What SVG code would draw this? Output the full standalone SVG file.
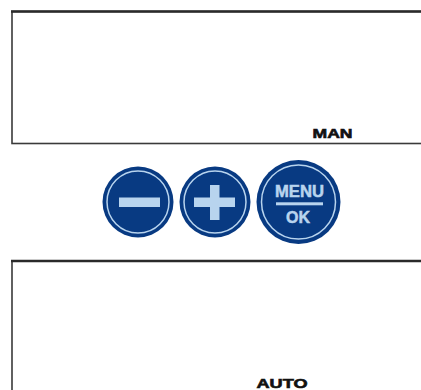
<svg xmlns="http://www.w3.org/2000/svg" width="421" height="390" viewBox="0 0 421 390">
<style>
.frame{fill:#fff;stroke:#3a3a3a;stroke-width:1.6}
.top{fill:none;stroke:#2a2a2a;stroke-width:2.6}
.lbl{font-family:"Liberation Sans",Arial,sans-serif;font-weight:bold;font-size:13px;fill:#111;stroke:#111;stroke-width:0.6}
.btn{fill:#083a82}
.ring{fill:none;stroke:#b8d4ee;stroke-width:1.5}
.sym{fill:#b8d4ee}
.btxt{font-family:"Liberation Sans",Arial,sans-serif;font-weight:bold;font-size:16px;fill:#b8d4ee;stroke:#b8d4ee;stroke-width:0.5;text-anchor:middle}
</style>
<rect width="421" height="390" fill="#fff"/>
<g id="display-man">
<rect class="frame" x="12" y="11.5" width="420" height="132"/>
<line class="top" x1="11" y1="11.5" x2="421" y2="11.5"/>
<text class="lbl" x="312.5" y="137.5" textLength="40" lengthAdjust="spacingAndGlyphs">MAN</text>
</g>
<g id="btn-minus">
<circle class="btn" cx="138" cy="202" r="35.5"/>
<circle class="ring" cx="138" cy="202" r="31"/>
<rect class="sym" x="119" y="197.5" width="41" height="9.5"/>
</g>
<g id="btn-plus">
<circle class="btn" cx="215" cy="202" r="35.5"/>
<circle class="ring" cx="215" cy="202" r="31"/>
<rect class="sym" x="194" y="197.5" width="41" height="9.5"/>
<rect class="sym" x="210" y="185" width="9.5" height="35"/>
</g>
<g id="btn-menu">
<circle class="btn" cx="298.5" cy="202" r="42"/>
<circle class="ring" cx="298.5" cy="202" r="37"/>
<text class="btxt" x="299.5" y="196.5" textLength="49" lengthAdjust="spacingAndGlyphs">MENU</text>
<rect class="sym" x="276" y="202.3" width="47" height="3"/>
<text class="btxt" x="298" y="222.5">OK</text>
</g>
<g id="display-auto">
<rect class="frame" x="12" y="261" width="420" height="140"/>
<line class="top" x1="11" y1="261" x2="421" y2="261"/>
<text class="lbl" x="256.5" y="387.5" textLength="51" lengthAdjust="spacingAndGlyphs">AUTO</text>
</g>
<g id="connectors"/>
</svg>
